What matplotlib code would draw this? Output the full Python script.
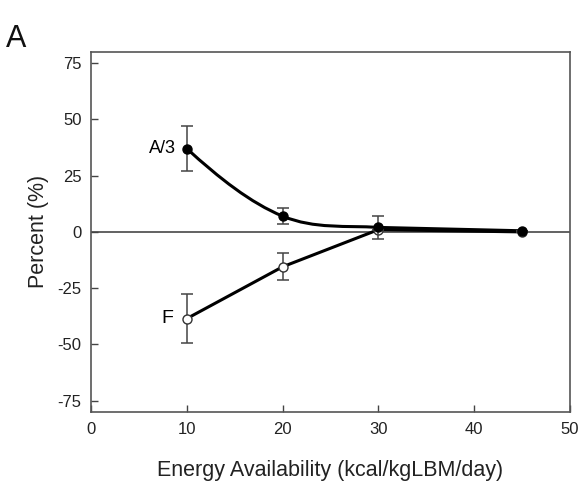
import matplotlib.pyplot as plt
import numpy as np
from matplotlib.path import Path
from matplotlib.patches import PathPatch

plt.rcParams['font.family'] = ['Liberation Sans', 'DejaVu Sans']
plt.rcParams['axes.unicode_minus'] = False

# data
energy = [10, 20, 30, 45]
a3_vals = [37, 7, 2, 0.5]
a3_err = [10, 3.5, 5, 0]
f_vals = [-38.5, -15.5, 1, 0]
f_err = [11, 6, 0, 0]

xticks = [0, 10, 20, 30, 40, 50]
yticks = [-75, -50, -25, 0, 25, 50, 75]

fig = plt.figure(figsize=(5.85, 4.95), dpi=100)
ax = fig.add_axes([0.156, 0.168, 0.818, 0.727])

ax.axhline(0, color='#555555', lw=1.3, zorder=1)

# smooth A/3 curve (Catmull-Rom converted to bezier) for the first three points
px = np.array(energy[:3], dtype=float)
py = np.array(a3_vals[:3], dtype=float)
ext_x = np.concatenate([[2 * px[0] - px[1]], px, [2 * px[-1] - px[-2]]])
ext_y = np.concatenate([[py[0] + (py[0] - py[1]) * 1.6], py, [py[-1] - 0.5]])
verts = [(px[0], py[0])]
codes = [Path.MOVETO]
for i in range(1, len(ext_x) - 2):
    p0 = np.array([ext_x[i - 1], ext_y[i - 1]])
    p1 = np.array([ext_x[i], ext_y[i]])
    p2 = np.array([ext_x[i + 1], ext_y[i + 1]])
    p3 = np.array([ext_x[i + 2], ext_y[i + 2]])
    c1 = p1 + (p2 - p0) / 6
    c2 = p2 - (p3 - p1) / 6
    verts += [tuple(c1), tuple(c2), tuple(p2)]
    codes += [Path.CURVE4] * 3
verts.append((energy[3], a3_vals[3]))
codes.append(Path.LINETO)
ax.add_patch(PathPatch(Path(verts, codes), fill=False, lw=2.2, color='black', zorder=3))

# F line
ax.plot(energy, f_vals, color='black', lw=2.2, zorder=3)

ax.errorbar(energy, f_vals, yerr=f_err, fmt='o', mfc='white', mec='#333333', ms=6.5,
            ecolor='#444444', elinewidth=1.1, capsize=4, capthick=1.1, zorder=4)
ax.errorbar(energy, a3_vals, yerr=a3_err, fmt='o', color='black', ms=6.5,
            ecolor='#444444', elinewidth=1.1, capsize=4, capthick=1.1, zorder=5)

ax.text(8.9, a3_vals[0], 'A/3', ha='right', va='center', fontsize=13)
ax.text(8.6, f_vals[0], 'F', ha='right', va='center', fontsize=14)

ax.set_xlim(0, 50)
ax.set_ylim(-80, 80)
ax.set_xticks(xticks)
ax.set_yticks(yticks)
ax.tick_params(direction='in', length=5, width=1, colors='#444444', labelcolor='#222222',
               labelsize=12, pad=7)
for s in ax.spines.values():
    s.set_color('#555555')
    s.set_linewidth(1.2)

ax.set_xlabel('Energy Availability (kcal/kgLBM/day)', fontsize=15.5, color='#222222', labelpad=17)
ax.set_ylabel('Percent (%)', fontsize=15.5, color='#222222', labelpad=6)

fig.text(0.01, 0.905, 'A', fontsize=22, color='#111111')

fig.savefig('out.png', dpi=100)
